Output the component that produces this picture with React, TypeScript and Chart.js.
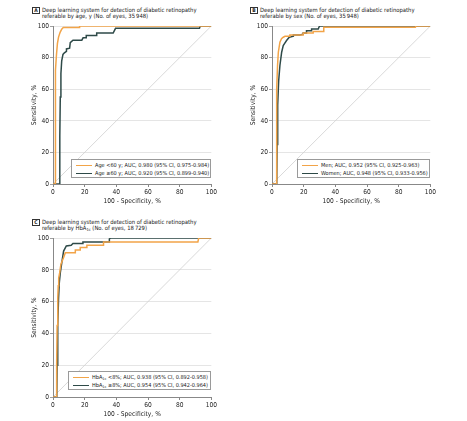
import React, { useEffect, useRef } from 'react';
import { Chart, registerables } from 'chart.js';

Chart.register(...registerables);

const FONT = "'Liberation Sans Narrow', 'Arial Narrow', 'DejaVu Sans Condensed', 'Liberation Sans', sans-serif";

// Tick labels
const xTickValues = [0, 20, 40, 60, 80, 100];
const yTickValues = [0, 20, 40, 60, 80, 100];
const xAxisTitle = '100 - Specificity, %';
const yAxisTitle = 'Sensitivity, %';

// Reference diagonal
const refX = [0, 100];
const refY = [0, 100];

// Panel A: age
const ageUnder60X = [0, 1.3, 1.4, 1.7, 2.2, 2.8, 3.5, 4.5, 5.5, 6.5, 16.5, 16.8, 100];
const ageUnder60Y = [0, 0, 50, 72, 82, 89, 93, 96, 98, 99, 99, 100, 100];
const age60PlusX = [0, 4.2, 4.3, 4.6, 5.0, 5.5, 6.3, 7.2, 8.5, 8.5, 10.5, 10.9, 12.6, 18.2, 19, 21, 21, 27.6, 27.6, 38, 39.5, 92.5, 93, 100];
const age60PlusY = [0, 0, 30, 55, 70, 78, 82, 83, 84, 85.5, 86, 89.5, 91, 91, 92.5, 92.5, 94, 94, 95.5, 95.5, 98.5, 98.5, 100, 100];

// Panel B: sex
const menX = [0, 2.6, 2.8, 3.1, 3.5, 4.0, 5.0, 6.0, 7.1, 8.2, 11.3, 11.3, 19.7, 19.7, 26, 26, 32.3, 32.7, 90.5, 91, 100];
const menY = [0, 0, 35, 60, 75, 83.4, 89.7, 92, 92.9, 93.5, 93.5, 94.3, 94.3, 95.6, 95.6, 96.5, 96.5, 99.2, 99.2, 100, 100];
const womenX = [0, 3.0, 3.2, 3.6, 4.2, 5.0, 6.1, 7.1, 8.0, 9.2, 10.9, 13.5, 13.5, 17.6, 19.7, 19.7, 21.8, 21.8, 25, 25, 29.2, 30, 100];
const womenY = [0, 0, 25, 50, 65, 75, 83.4, 87.6, 89, 90.8, 92.9, 93.5, 94.3, 94.3, 94.8, 95.6, 95.6, 97, 97, 98.1, 98.1, 100, 100];

// Panel C: HbA1c
const hbaUnder8X = [0, 2.0, 2.3, 2.6, 3.0, 3.3, 3.6, 4.2, 5.0, 6.0, 6.7, 7.8, 14.1, 14.1, 17.2, 17.2, 21.4, 21.4, 31.9, 31.9, 91.5, 92, 100];
const hbaUnder8Y = [0, 0, 20, 45, 62, 70, 75, 78, 83.5, 86, 87.7, 90.8, 90.8, 92.5, 92.5, 94, 94, 95.4, 95.4, 97.5, 97.5, 100, 100];
const hba8PlusX = [0, 2.4, 2.6, 3.0, 3.5, 4.0, 4.6, 5.7, 6.7, 8.4, 11.5, 12.6, 18.9, 18.9, 35.6, 35.6, 36.5, 100];
const hba8PlusY = [0, 0, 20, 45, 62, 72, 78, 85.5, 91.8, 95, 95.4, 96.5, 96.5, 97.5, 97.5, 99.4, 100, 100];

const ORANGE = '#F2A448';
const DARK = '#2E4A48';

type Series = { x: number[]; y: number[]; color: string; label: string };

function RocChart(props: { left: number; top: number; width: number; height: number; series: Series[] }) {
  const ref = useRef<HTMLCanvasElement | null>(null);
  useEffect(() => {
    if (!ref.current) return;
    const datasets: any[] = props.series.map((s) => ({
      label: s.label,
      data: s.x.map((x, i) => ({ x, y: s.y[i] })),
      showLine: true,
      borderColor: s.color,
      backgroundColor: s.color,
      borderWidth: 1.5,
      pointRadius: 0,
      tension: 0,
      fill: false,
    }));
    datasets.push({
      label: 'Reference',
      data: refX.map((x, i) => ({ x, y: refY[i] })),
      showLine: true,
      borderColor: '#cfcfcf',
      borderWidth: 0.8,
      pointRadius: 0,
      fill: false,
    });
    const chart = new Chart(ref.current, {
      type: 'scatter',
      data: { datasets },
      options: {
        animation: false,
        responsive: false,
        maintainAspectRatio: false,
        devicePixelRatio: 1,
        layout: { padding: { top: 6, right: 6, left: 0, bottom: 0 } },
        plugins: { legend: { display: false }, tooltip: { enabled: false } },
        scales: {
          x: {
            type: 'linear',
            min: 0,
            max: 100,
            afterBuildTicks: (s: any) => {
              s.ticks = xTickValues.map((v) => ({ value: v }));
            },
            afterFit: (s: any) => {
              s.height = 24;
            },
            ticks: { color: '#222', font: { family: FONT, size: 6.6 }, padding: 1, maxRotation: 0 },
            grid: { drawOnChartArea: false, drawTicks: true, tickLength: 3, tickColor: '#888' },
            border: { color: '#888', width: 1 },
            title: {
              display: true,
              text: xAxisTitle,
              color: '#222',
              font: { family: FONT, size: 6.6 },
              padding: { top: 0, bottom: 3 },
            },
          },
          y: {
            type: 'linear',
            min: 0,
            max: 100,
            afterBuildTicks: (s: any) => {
              s.ticks = yTickValues.map((v) => ({ value: v }));
            },
            afterFit: (s: any) => {
              s.width = 31;
            },
            ticks: { color: '#222', font: { family: FONT, size: 6.6 }, padding: 1 },
            grid: { color: '#dedede', lineWidth: 0.8, drawTicks: true, tickLength: 3, tickColor: '#888' },
            border: { color: '#888', width: 1 },
            title: {
              display: true,
              text: yAxisTitle,
              color: '#222',
              font: { family: FONT, size: 6.6 },
              padding: { top: 8, bottom: 0 },
            },
          },
        },
      },
    });
    return () => chart.destroy();
  }, []);
  return (
    <canvas
      ref={ref}
      width={props.width}
      height={props.height}
      style={{ position: 'absolute', left: props.left, top: props.top, width: props.width, height: props.height }}
    />
  );
}

const textStyle: React.CSSProperties = {
  fontFamily: FONT,
  color: '#1a1a1a',
  whiteSpace: 'nowrap',
};

function PanelTitle(props: { left: number; top: number; letter: string; lines: React.ReactNode[] }) {
  return (
    <div style={{ position: 'absolute', left: props.left, top: props.top }}>
      <div
        style={{
          position: 'absolute',
          left: 0,
          top: 0,
          width: 6,
          height: 5,
          border: '0.8px solid #333',
          fontFamily: FONT,
          fontWeight: 'bold',
          fontSize: 5,
          lineHeight: '5px',
          textAlign: 'center',
          color: '#222',
        }}
      >
        {props.letter}
      </div>
      <div style={{ ...textStyle, position: 'absolute', left: 10, top: -0.5, fontSize: 5.85, lineHeight: '6px' }}>
        {props.lines.map((l, i) => (
          <div key={i}>{l}</div>
        ))}
      </div>
    </div>
  );
}

function Legend(props: { left: number; top: number; width: number; items: { color: string; text: React.ReactNode }[] }) {
  return (
    <div
      style={{
        position: 'absolute',
        left: props.left,
        top: props.top,
        width: props.width,
        height: 19,
        border: '0.8px solid #9a9a9a',
        background: '#fff',
        boxSizing: 'border-box',
        paddingTop: 2,
      }}
    >
      {props.items.map((it, i) => (
        <div key={i} style={{ display: 'flex', alignItems: 'center', height: 7.5, marginLeft: 3.5 }}>
          <div style={{ width: 16, flexShrink: 0, height: 0, borderTop: `1.5px solid ${it.color}`, marginRight: 3.5 }} />
          <div style={{ ...textStyle, fontSize: 5.55, lineHeight: '7px' }}>{it.text}</div>
        </div>
      ))}
    </div>
  );
}

const Sub = (p: { children: React.ReactNode }) => (
  <sub style={{ fontSize: '0.68em', verticalAlign: '-0.25em', lineHeight: 0 }}>{p.children}</sub>
);

export default function App() {
  return (
    <div style={{ position: 'fixed', left: 0, top: 0, width: 467, height: 421, background: '#fff', overflow: 'hidden' }}>
      <PanelTitle
        left={32}
        top={7}
        letter="A"
        lines={['Deep learning system for detection of diabetic retinopathy', 'referable by age, y (No. of eyes, 35\u2009948)']}
      />
      <RocChart
        left={22}
        top={20}
        width={196}
        height={188}
        series={[
          { x: ageUnder60X, y: ageUnder60Y, color: ORANGE, label: 'Age <60 y' },
          { x: age60PlusX, y: age60PlusY, color: DARK, label: 'Age ≥60 y' },
        ]}
      />
      <Legend
        left={71}
        top={159}
        width={140}
        items={[
          { color: ORANGE, text: 'Age <60 y; AUC, 0.980 (95% CI, 0.975-0.984)' },
          { color: DARK, text: 'Age ≥60 y; AUC, 0.920 (95% CI, 0.899-0.940)' },
        ]}
      />

      <PanelTitle
        left={250}
        top={7}
        letter="B"
        lines={['Deep learning system for detection of diabetic retinopathy', 'referable by sex (No. of eyes, 35\u2009948)']}
      />
      <RocChart
        left={241}
        top={20}
        width={196}
        height={188}
        series={[
          { x: menX, y: menY, color: ORANGE, label: 'Men' },
          { x: womenX, y: womenY, color: DARK, label: 'Women' },
        ]}
      />
      <Legend
        left={297}
        top={159}
        width={133}
        items={[
          { color: ORANGE, text: 'Men; AUC, 0.952 (95% CI, 0.925-0.963)' },
          { color: DARK, text: 'Women; AUC, 0.948 (95% CI, 0.933-0.956)' },
        ]}
      />

      <PanelTitle
        left={32}
        top={219}
        letter="C"
        lines={[
          'Deep learning system for detection of diabetic retinopathy',
          <span>
            referable by HbA<Sub>1c</Sub> (No. of eyes, 18&#8201;729)
          </span>,
        ]}
      />
      <RocChart
        left={22}
        top={232}
        width={196}
        height={189}
        series={[
          { x: hbaUnder8X, y: hbaUnder8Y, color: ORANGE, label: 'HbA1c <8%' },
          { x: hba8PlusX, y: hba8PlusY, color: DARK, label: 'HbA1c ≥8%' },
        ]}
      />
      <Legend
        left={68}
        top={371}
        width={143}
        items={[
          {
            color: ORANGE,
            text: (
              <span>
                HbA<Sub>1c</Sub> &lt;8%; AUC, 0.938 (95% CI, 0.892-0.958)
              </span>
            ),
          },
          {
            color: DARK,
            text: (
              <span>
                HbA<Sub>1c</Sub> ≥8%; AUC, 0.954 (95% CI, 0.942-0.964)
              </span>
            ),
          },
        ]}
      />
    </div>
  );
}
